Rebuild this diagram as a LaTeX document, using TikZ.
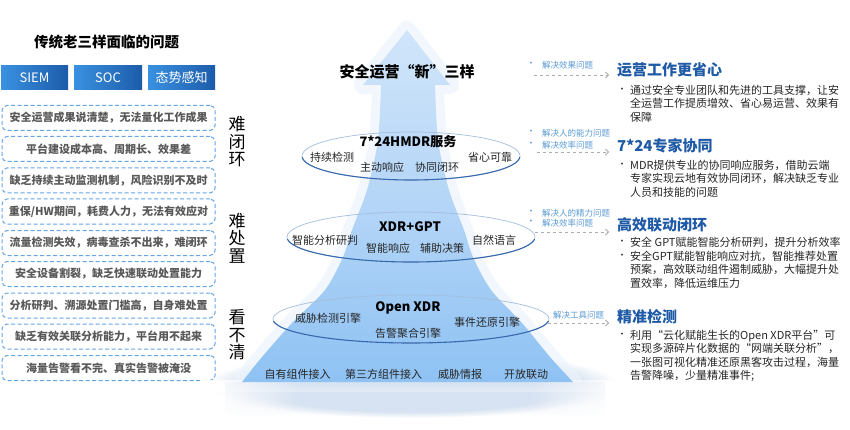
\documentclass[tikz,border=0pt]{standalone}
\usepackage{fontspec}
\setmainfont{Noto Sans CJK SC}
\usetikzlibrary{arrows.meta,shapes.geometric,fadings}
\definecolor{headblue}{RGB}{31,90,166}
\definecolor{noteblue}{RGB}{91,155,213}
\definecolor{dashblue}{RGB}{100,165,230}
\definecolor{probtext}{RGB}{89,89,89}
\definecolor{boxL}{RGB}{58,145,225}
\definecolor{boxR}{RGB}{28,92,170}
\definecolor{arrTop}{RGB}{208,229,250}
\definecolor{arrMid}{RGB}{180,213,247}
\definecolor{arrBot}{RGB}{142,194,243}
\definecolor{ellTop}{RGB}{165,190,220}
\definecolor{ellBot}{RGB}{55,105,175}
\definecolor{glow}{RGB}{236,244,252}
\definecolor{shadowc}{RGB}{215,227,242}
\definecolor{bodytext}{RGB}{38,38,38}
\tikzset{
  prob/.style={draw=dashblue, dash pattern=on 4pt off 2.5pt, line width=1pt, rounded corners=5pt,
    minimum width=213pt, minimum height=25pt, inner sep=0pt, fill=white,
    font=\fontsize{11}{13}\selectfont\bfseries, text=probtext},
  oldbox/.style={minimum height=24pt, inner sep=0pt, left color=boxL, right color=boxR,
    text=white, font=\fontsize{13}{15}\selectfont},
  elltxt/.style={font=\fontsize{11}{13}\selectfont, text=bodytext, inner sep=0pt},
  elltitle/.style={font=\fontsize{13}{15}\selectfont\bfseries, text=black, inner sep=0pt},
  vlabel/.style={align=center, font=\fontsize{17}{17.5}\selectfont, inner sep=0pt, text=black},
  note/.style={font=\fontsize{8.5}{10}\selectfont, text=noteblue, inner sep=0pt, anchor=west},
  head/.style={font=\fontsize{15}{17}\selectfont\bfseries, text=headblue, inner sep=0pt, anchor=west},
  body/.style={font=\fontsize{11}{13.6}\selectfont, align=left, inner sep=0pt, anchor=north west, text=bodytext},
  bul/.style={font=\fontsize{9}{10}\selectfont, inner sep=0pt, text=bodytext},
  dasharr/.style={draw=gray!65, dashed, line width=0.8pt, -{Straight Barb[length=3pt,width=6pt]}, shorten >=8pt},
  ellline/.style={draw=ellTop, line width=0.7pt},
  ellbot/.style={draw=ellBot, line width=1.1pt},
}
\begin{document}
\begin{tikzpicture}[x=1pt,y=-1pt]
\useasboundingbox (0,0) rectangle (850,430);
\fill[white] (0,0) rectangle (850,430);

% ---------- left column ----------
\node[font=\fontsize{14.5}{16}\selectfont\bfseries] (title) at (106.5,42) {传统老三样面临的问题};
\node[oldbox, minimum width=67pt] (siem) at (34.5,78) {SIEM};
\node[oldbox, minimum width=68pt] (soc) at (108,78) {SOC};
\node[oldbox, minimum width=67pt] (tai) at (181.5,78) {态势感知};

\node[prob] (p1) at (108.5,118) {安全运营成果说清楚，无法量化工作成果};
\node[prob] (p2) at (108.5,149) {平台建设成本高、周期长、效果差};
\node[prob] (p3) at (108.5,180.5) {缺乏持续主动监测机制，风险识别不及时};
\node[prob] (p4) at (108.5,211.5) {重保/HW期间，耗费人力，无法有效应对};
\node[prob] (p5) at (108.5,243) {流量检测失效，病毒查杀不出来，难闭环};
\node[prob] (p6) at (108.5,274) {安全设备割裂，缺乏快速联动处置能力};
\node[prob] (p7) at (108.5,305.5) {分析研判、溯源处置门槛高，自身难处置};
\node[prob] (p8) at (108.5,336.5) {缺乏有效关联分析能力，平台用不起来};
\node[prob] (p9) at (108.5,368) {海量告警看不完、真实告警被淹没};

\node[vlabel] (v1) at (237,142) {难\\闭\\环};
\node[vlabel] (v2) at (237,238) {难\\处\\置};
\node[vlabel] (v3) at (237,335) {看\\不\\清};

% ---------- central arrow ----------
\fill[shadowc, path fading=circle with fuzzy edge 20 percent] (412,384) ellipse [x radius=205, y radius=34];
\path[draw=glow, line width=18pt, line join=round, opacity=0.7]
  (407,30) -- (450,85) -- (435,85)
  -- plot[smooth] coordinates {(435,85) (438,140) (449,190) (464,230) (473,257) (491,290) (522,323) (550,357) (573,382)}
  -- (242,382)
  -- plot[smooth] coordinates {(242,382) (262,357) (292,323) (325,290) (343,257) (352,230) (367,190) (378,140) (381,85)}
  -- (363,85) -- cycle;
\fill[white] (200,382) rectangle (620,392);
\fill[shadowc, path fading=south] (225,382) rectangle (605,416);
\fill[white, path fading=east] (200,380) rectangle (300,420);
\fill[white, path fading=west] (530,380) rectangle (630,420);
\path[top color=arrTop, bottom color=arrBot, middle color=arrMid]
  (407,30) -- (450,85) -- (435,85)
  -- plot[smooth] coordinates {(435,85) (438,140) (449,190) (464,230) (473,257) (491,290) (522,323) (550,357) (573,382)}
  -- (242,382)
  -- plot[smooth] coordinates {(242,382) (262,357) (292,323) (325,290) (343,257) (352,230) (367,190) (378,140) (381,85)}
  -- (363,85) -- cycle;

\node[font=\fontsize{15}{17}\selectfont\bfseries] (newtitle) at (407,72) {安全运营“新”三样};

% ellipse 1
\draw[ellline] (411,156) ellipse [x radius=109, y radius=24];
\begin{scope}
  \clip (290,158) rectangle (530,190);
  \draw[ellbot] (411,156) ellipse [x radius=109, y radius=24];
\end{scope}
\node[elltitle] (e1t) at (408,142) {7*24HMDR服务};
\node[elltxt] (e1a) at (332,157) {持续检测};
\node[elltxt] (e1b) at (382,167) {主动响应};
\node[elltxt] (e1c) at (437,167) {协同闭环};
\node[elltxt] (e1d) at (490,157) {省心可靠};

% ellipse 2
\draw[ellline] (411,237) ellipse [x radius=124, y radius=25];
\begin{scope}
  \clip (280,239) rectangle (545,270);
  \draw[ellbot] (411,237) ellipse [x radius=124, y radius=25];
\end{scope}
\node[elltitle] (e2t) at (410,227) {XDR+GPT};
\node[elltxt] (e2a) at (325,240) {智能分析研判};
\node[elltxt] (e2b) at (388,248) {智能响应};
\node[elltxt] (e2c) at (442,248) {辅助决策};
\node[elltxt] (e2d) at (494,240) {自然语言};

% ellipse 3
\draw[ellline] (411,319) ellipse [x radius=138, y radius=24];
\begin{scope}
  \clip (265,321) rectangle (560,350);
  \draw[ellbot] (411,319) ellipse [x radius=138, y radius=24];
\end{scope}
\node[elltitle] (e3t) at (408,308) {Open XDR};
\node[elltxt] (e3a) at (328,318) {威胁检测引擎};
\node[elltxt] (e3b) at (408,333) {告警聚合引擎};
\node[elltxt] (e3c) at (487,322) {事件还原引擎};

% bottom row
\node[elltxt] (b1) at (297.5,374) {自有组件接入};
\node[elltxt] (b2) at (383.5,374) {第三方组件接入};
\node[elltxt] (b3) at (460,374) {威胁情报};
\node[elltxt] (b4) at (526,374) {开放联动};

% ---------- right column ----------
% block 1
\node[bul, text=noteblue] (n1d) at (531,64) {•};
\node[note] (n1) at (542,65) {解决效果问题};
\node[head] (h1) at (617,70) {运营工作更省心};
\coordinate (a1) at (534,75);
\draw[dasharr] (a1) -- (a1 -| h1.west);
\node[bul] (d1) at (622,90) {•};
\node[body] (t1) at (630,84.5) {通过安全专业团队和先进的工具支撑，让安\\全运营工作提质增效、省心易运营、效果有\\保障};

% block 2
\node[bul, text=noteblue] (n2d) at (531,132) {•};
\node[note] (n2) at (542,133) {解决人的能力问题};
\node[bul, text=noteblue] (n3d) at (531,144) {•};
\node[note] (n3) at (542,145) {解决效率问题};
\node[head] (h2) at (617,146) {7*24专家协同};
\coordinate (a2) at (537,152);
\draw[dasharr] (a2) -- (a2 -| h2.west);
\node[bul] (d2) at (622,165) {•};
\node[body] (t2) at (630,159.5) {MDR提供专业的协同响应服务，借助云端\\专家实现云地有效协同闭环，解决缺乏专业\\人员和技能的问题};

% block 3
\node[bul, text=noteblue] (n4d) at (531,212) {•};
\node[note] (n4) at (542,213) {解决人的精力问题};
\node[bul, text=noteblue] (n5d) at (531,222) {•};
\node[note] (n5) at (542,223) {解决效率问题};
\node[head] (h3) at (617,225) {高效联动闭环};
\coordinate (a3) at (535,232);
\draw[dasharr] (a3) -- (a3 -| h3.west);
\node[bul] (d3) at (622,242) {•};
\node[body] (t3) at (630,236.5) {安全 GPT赋能智能分析研判，提升分析效率};
\node[bul] (d4) at (622,256) {•};
\node[body] (t4) at (630,250.5) {安全GPT赋能智能响应对抗，智能推荐处置\\预案，高效联动组件遏制威胁，大幅提升处\\置效率，降低运维压力};

% block 4
\node[note] (n6) at (553,315) {解决工具问题};
\node[head] (h4) at (617,317) {精准检测};
\coordinate (a4) at (548,323);
\draw[dasharr] (a4) -- (a4 -| h4.west);
\node[bul] (d5) at (622,335) {•};
\node[body] (t5) at (630,329.5) {利用“云化赋能生长的Open XDR平台”可\\实现多源碎片化数据的“网端关联分析”，\\一张图可视化精准还原黑客攻击过程，海量\\告警降噪，少量精准事件;};
\end{tikzpicture}
\end{document}
